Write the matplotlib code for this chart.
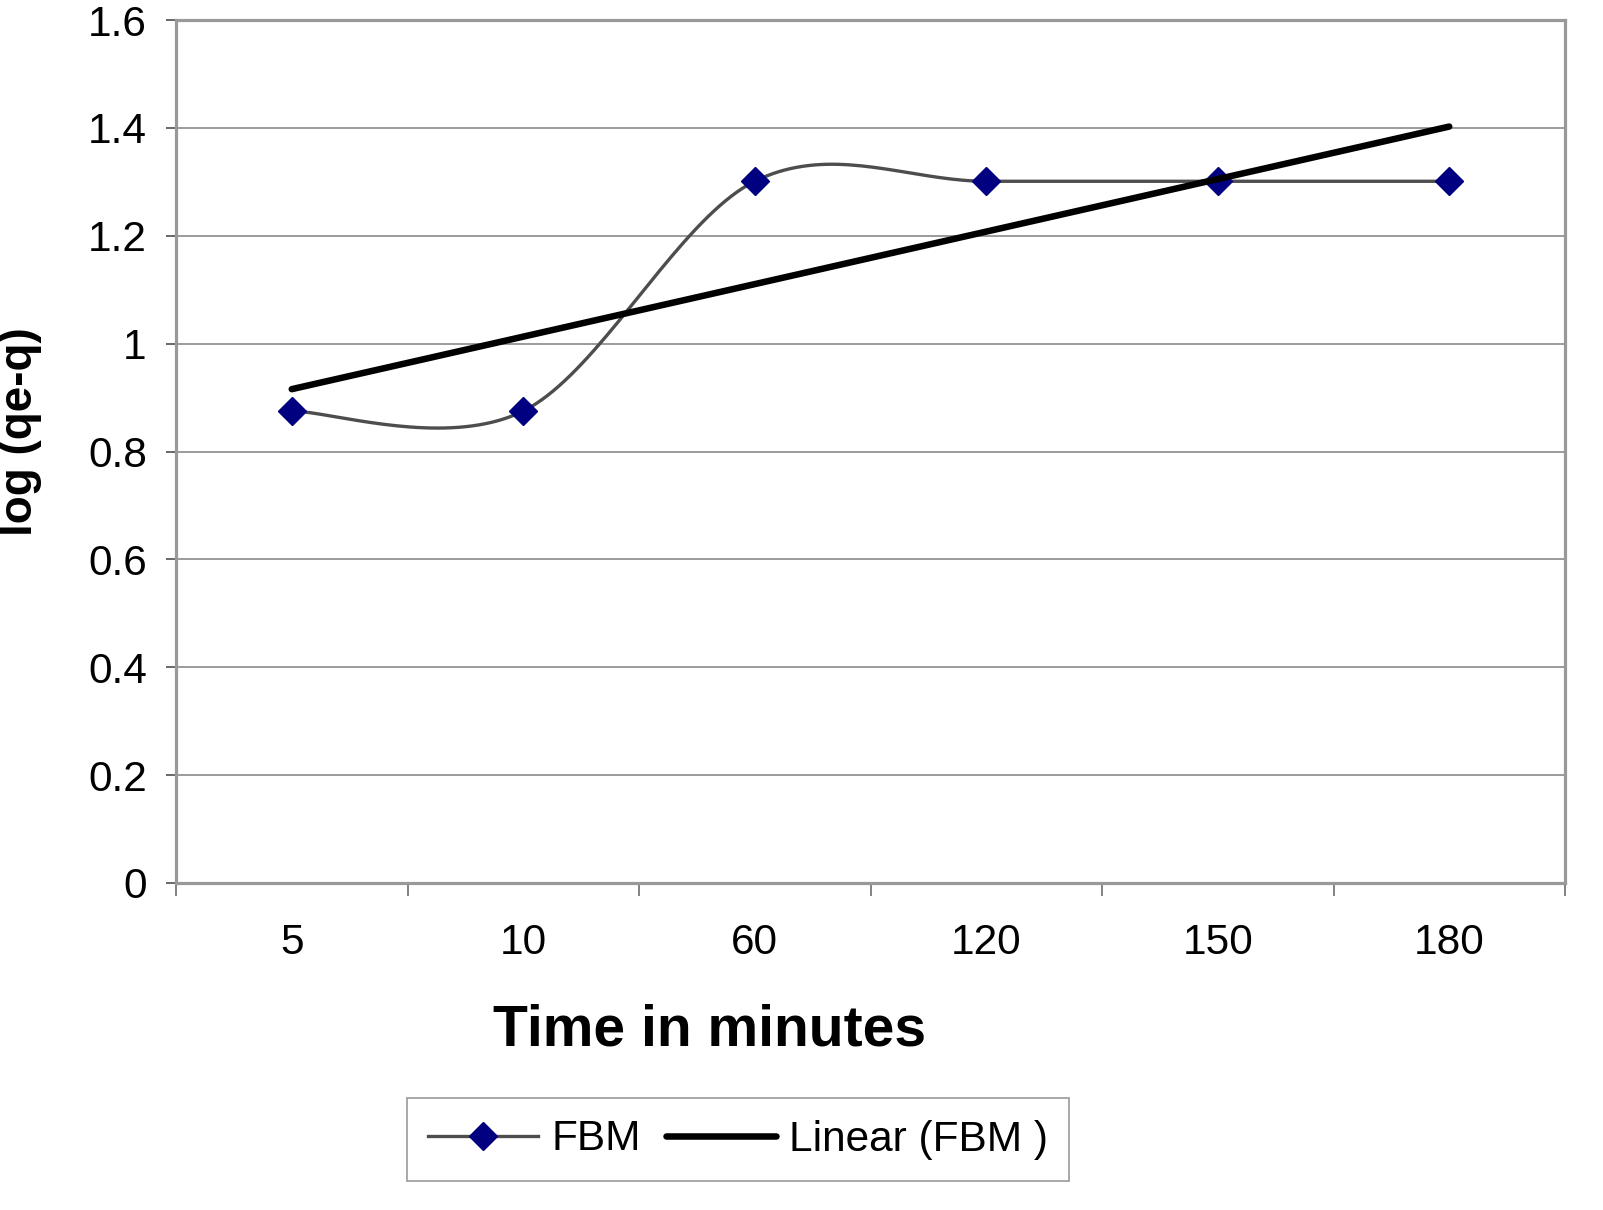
import numpy as np
import matplotlib
matplotlib.use("Agg")
import matplotlib.pyplot as plt
from matplotlib.lines import Line2D

plt.rcParams['font.family'] = ['Liberation Sans', 'DejaVu Sans']

categories = ['5', '10', '60', '120', '150', '180']
fbm = [0.875, 0.875, 1.301, 1.301, 1.301, 1.301]
yticks = [0, 0.2, 0.4, 0.6, 0.8, 1, 1.2, 1.4, 1.6]
ytick_labels = ['0', '0.2', '0.4', '0.6', '0.8', '1', '1.2', '1.4', '1.6']

W, H = 1603, 1210
fig = plt.figure(figsize=(W / 100, H / 100), dpi=100)
ax = fig.add_axes([176 / W, 1 - 883 / H, (1565 - 176) / W, (883 - 20) / H])

x = np.arange(1, len(categories) + 1, dtype=float)
y = np.array(fbm, dtype=float)

# Excel-style smoothed line (cubic Bezier, 1/6 tangents)
def smooth(xs, ys, n=40):
    P = np.column_stack([xs, ys])
    out = []
    for i in range(len(P) - 1):
        p0 = P[i]
        p3 = P[i + 1]
        pm = P[i - 1] if i > 0 else P[i]
        pp = P[i + 2] if i + 2 < len(P) else P[i + 1]
        c1 = p0 + (p3 - pm) / 6.0
        c2 = p3 - (pp - p0) / 6.0
        t = np.linspace(0, 1, n)[:, None]
        seg = (1 - t) ** 3 * p0 + 3 * (1 - t) ** 2 * t * c1 + 3 * (1 - t) * t ** 2 * c2 + t ** 3 * p3
        out.append(seg if i == 0 else seg[1:])
    return np.vstack(out)

curve = smooth(x, y)
line_color = '#4d4d4d'
marker_color = '#000080'
ax.plot(curve[:, 0], curve[:, 1], color=line_color, lw=2.4, zorder=3, solid_capstyle='round')
ax.plot(x, y, linestyle='none', marker='D', markersize=14, color=marker_color,
        markeredgecolor=marker_color, zorder=4)

# linear trendline
coef = np.polyfit(x, y, 1)
tx = np.array([x[0], x[-1]])
ax.plot(tx, np.polyval(coef, tx), color='black', lw=4.7, solid_capstyle='round', zorder=5)

ax.set_xlim(0.5, len(categories) + 0.5)
ax.set_ylim(0, 1.6)

ax.set_yticks(yticks)
ax.set_yticklabels(ytick_labels, fontsize=30.5)
ax.yaxis.grid(True, color='#808080', lw=1.1)
ax.set_axisbelow(True)
ax.tick_params(axis='y', length=7, width=1.1, color='#404040', pad=14, direction='out')

ax.set_xticks(x)
ax.set_xticklabels(categories, fontsize=30.5)
ax.tick_params(axis='x', which='major', length=0, pad=29)
ax.set_xticks(np.arange(0.5, len(categories) + 1, 1.0), minor=True)
ax.tick_params(axis='x', which='minor', length=9, width=1.1, color='#606060', direction='out')

for s in ax.spines.values():
    s.set_color('#999999')
    s.set_linewidth(2.3)

fig.text(20 / W, 1 - 432 / H, 'log (qe-q)', rotation=90, fontsize=33, fontweight='bold',
         ha='center', va='center')
fig.text(710 / W, 1 - 1030 / H, 'Time in minutes', fontsize=41, fontweight='bold',
         ha='center', va='center')

handles = [
    Line2D([], [], color=line_color, lw=2.4, marker='D', markersize=14,
           markerfacecolor=marker_color, markeredgecolor=marker_color),
    Line2D([], [], color='black', lw=4.7, solid_capstyle='round'),
]
leg = fig.legend(handles, ['FBM', 'Linear (FBM )'], loc='center',
                 bbox_to_anchor=(738 / W, 1 - 1139.5 / H), ncol=2, fontsize=30.5,
                 frameon=True, fancybox=False, edgecolor='#808080', handlelength=2.6,
                 handletextpad=0.3, columnspacing=0.6, borderpad=0.5, borderaxespad=0)
leg.get_frame().set_linewidth(1.2)

fig.savefig('out.png', dpi=100, facecolor='white')
